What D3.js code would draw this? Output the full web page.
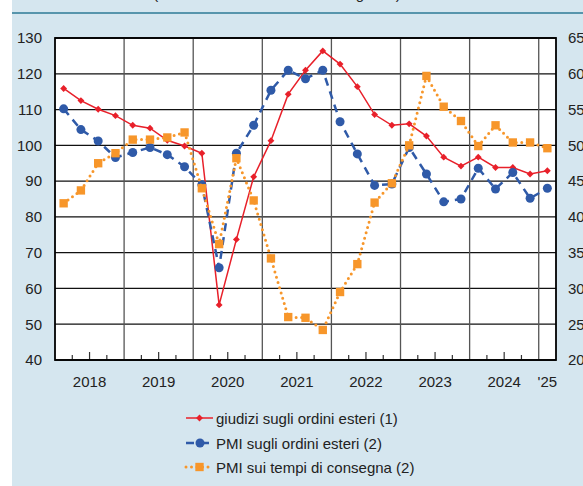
<!DOCTYPE html>
<html>
<head>
<meta charset="utf-8">
<script src="https://cdn.jsdelivr.net/npm/d3@7"></script>
<style>
  body { margin: 0; background: #fff; }
  svg { display: block; font-family: "Liberation Sans", Arial, sans-serif; }
</style>
</head>
<body>
<svg id="chart" width="583" height="486"></svg>
<script>
// quarterly data, 2018 Q1 - 2025 Q1
const years = ['2018', '2019', '2020', '2021', '2022', '2023', '2024', "'25"];
const leftTicks = [40, 50, 60, 70, 80, 90, 100, 110, 120, 130];
const rightTicks = [20, 25, 30, 35, 40, 45, 50, 55, 60, 65];

// giudizi sugli ordini esteri (left axis)
const giudizi = [115.9, 112.5, 110.1, 108.3, 105.6, 104.8, 101.4, 99.8, 97.8, 55.4,
  73.7, 91.2, 101.3, 114.3, 121.0, 126.4, 122.7, 116.4, 108.6, 105.6,
  106.0, 102.6, 96.7, 94.2, 96.7, 93.8, 93.8, 92.0, 92.9];
// PMI sugli ordini esteri (right axis)
const pmiOrdini = [55.1, 52.2, 50.6, 48.3, 49.0, 49.7, 48.7, 47.0, 44.5, 32.9,
  48.9, 52.8, 57.7, 60.5, 59.3, 60.5, 53.3, 48.8, 44.4, 44.6,
  49.7, 46.0, 42.1, 42.5, 46.8, 43.9, 46.2, 42.6, 44.0];
// PMI sui tempi di consegna (right axis)
const pmiConsegna = [41.9, 43.7, 47.5, 48.9, 50.8, 50.8, 51.1, 51.8, 44.0, 36.2,
  48.2, 42.3, 34.2, 26.0, 25.9, 24.2, 29.5, 33.4, 42.0, 44.7,
  50.0, 59.7, 55.4, 53.4, 49.9, 52.8, 50.4, 50.4, 49.6];

const legendLabels = ['giudizi sugli ordini esteri (1)', 'PMI sugli ordini esteri (2)', 'PMI sui tempi di consegna (2)'];

const red = '#e8202a', blue = '#2f5aa8', orange = '#f7962a';

const svg = d3.select('#chart');
const plotL = 55, plotR = 556, plotT = 38, plotB = 360;
const nq = giudizi.length;

// panel background
svg.append('rect').attr('x', 12).attr('y', 0).attr('width', 571).attr('height', 486).attr('fill', '#d5e6ef');
svg.append('text').attr('x', 277).attr('y', -1).attr('text-anchor', 'middle')
  .attr('font-size', 15).attr('fill', '#222').text('(indici e medie trimestrali: dati grezzi)');
svg.append('line').attr('x1', 12).attr('x2', 583).attr('y1', 13).attr('y2', 13)
  .attr('stroke', '#2d7a96').attr('stroke-width', 1.5);

const x = d3.scaleLinear().domain([0, nq]).range([plotL, plotR]);
const yL = d3.scaleLinear().domain([40, 130]).range([plotB, plotT]);
const yR = d3.scaleLinear().domain([20, 65]).range([plotB, plotT]);

svg.append('rect').attr('x', plotL).attr('y', plotT).attr('width', plotR - plotL).attr('height', plotB - plotT)
  .attr('fill', '#fff');

// horizontal grid
svg.append('g').selectAll('line').data(leftTicks).join('line')
  .attr('x1', plotL).attr('x2', plotR)
  .attr('y1', d => yL(d)).attr('y2', d => yL(d))
  .attr('stroke', '#111').attr('stroke-width', 1.3);

// year separators
svg.append('g').selectAll('line').data(d3.range(4, nq, 4)).join('line')
  .attr('x1', d => x(d)).attr('x2', d => x(d))
  .attr('y1', plotT).attr('y2', plotB)
  .attr('stroke', '#555').attr('stroke-width', 1.3);

// quarter ticks
svg.append('g').selectAll('line').data(d3.range(1, nq).filter(d => d % 4 !== 0)).join('line')
  .attr('x1', d => x(d)).attr('x2', d => x(d))
  .attr('y1', plotB).attr('y2', d => plotB - (d % 4 === 2 ? 8 : 5))
  .attr('stroke', '#333').attr('stroke-width', 1.2);

svg.append('rect').attr('x', plotL).attr('y', plotT).attr('width', plotR - plotL).attr('height', plotB - plotT)
  .attr('fill', 'none').attr('stroke', '#000').attr('stroke-width', 1.8);

// axes
const axL = svg.append('g').attr('transform', `translate(${plotL},0)`)
  .call(d3.axisLeft(yL).tickValues(leftTicks).tickSize(0).tickPadding(13));
const axR = svg.append('g').attr('transform', `translate(${plotR},0)`)
  .call(d3.axisRight(yR).tickValues(rightTicks).tickSize(0).tickPadding(12));
[axL, axR].forEach(g => {
  g.select('.domain').remove();
  g.selectAll('text').attr('font-size', 15).attr('fill', '#222').attr('font-family', '"Liberation Sans", Arial, sans-serif');
});

svg.append('g').selectAll('text').data(years).join('text')
  .attr('x', (d, i) => x(Math.min(i * 4 + 2, (i * 4 + nq) / 2)))
  .attr('y', 387).attr('text-anchor', 'middle')
  .attr('font-size', 15).attr('fill', '#222').text(d => d);

// series
const xi = (d, i) => x(i + 0.5);
const lineL = d3.line().x(xi).y(d => yL(d));
const lineR = d3.line().x(xi).y(d => yR(d));

const diamond = d3.symbol().type(d3.symbolDiamond2).size(30);
const square = d3.symbol().type(d3.symbolSquare).size(70);

svg.append('path').datum(giudizi).attr('d', lineL)
  .attr('fill', 'none').attr('stroke', red).attr('stroke-width', 1.5);
svg.append('g').selectAll('path').data(giudizi).join('path')
  .attr('d', diamond).attr('transform', (d, i) => `translate(${xi(d, i)},${yL(d)})`).attr('fill', red);

svg.append('path').datum(pmiOrdini).attr('d', lineR)
  .attr('fill', 'none').attr('stroke', blue).attr('stroke-width', 2.5).attr('stroke-dasharray', '8,6');
svg.append('g').selectAll('circle').data(pmiOrdini).join('circle')
  .attr('cx', xi).attr('cy', d => yR(d)).attr('r', 4.5).attr('fill', blue);

svg.append('path').datum(pmiConsegna).attr('d', lineR)
  .attr('fill', 'none').attr('stroke', orange).attr('stroke-width', 3)
  .attr('stroke-linecap', 'round').attr('stroke-dasharray', '0,5.5');
svg.append('g').selectAll('path').data(pmiConsegna).join('path')
  .attr('d', square).attr('transform', (d, i) => `translate(${xi(d, i)},${yR(d)})`).attr('fill', orange);

// legend
const lg = svg.append('g');
const rows = [418, 443, 467];
lg.append('line').attr('x1', 186).attr('x2', 213).attr('y1', rows[0]).attr('y2', rows[0])
  .attr('stroke', red).attr('stroke-width', 1.5);
lg.append('path').attr('d', diamond).attr('transform', `translate(199.5,${rows[0]})`).attr('fill', red);
lg.append('line').attr('x1', 186).attr('x2', 214).attr('y1', rows[1]).attr('y2', rows[1])
  .attr('stroke', blue).attr('stroke-width', 2.5).attr('stroke-dasharray', '8,7');
lg.append('circle').attr('cx', 200).attr('cy', rows[1]).attr('r', 4.5).attr('fill', blue);
lg.append('line').attr('x1', 186).attr('x2', 212).attr('y1', rows[2]).attr('y2', rows[2])
  .attr('stroke', orange).attr('stroke-width', 3).attr('stroke-linecap', 'round').attr('stroke-dasharray', '0,5.5');
lg.append('path').attr('d', square).attr('transform', `translate(199.5,${rows[2]})`).attr('fill', orange);
lg.selectAll('text').data(legendLabels).join('text')
  .attr('x', 216).attr('y', (d, i) => rows[i] + 5.5)
  .attr('font-size', 15).attr('fill', '#222').text(d => d);
</script>
</body>
</html>
